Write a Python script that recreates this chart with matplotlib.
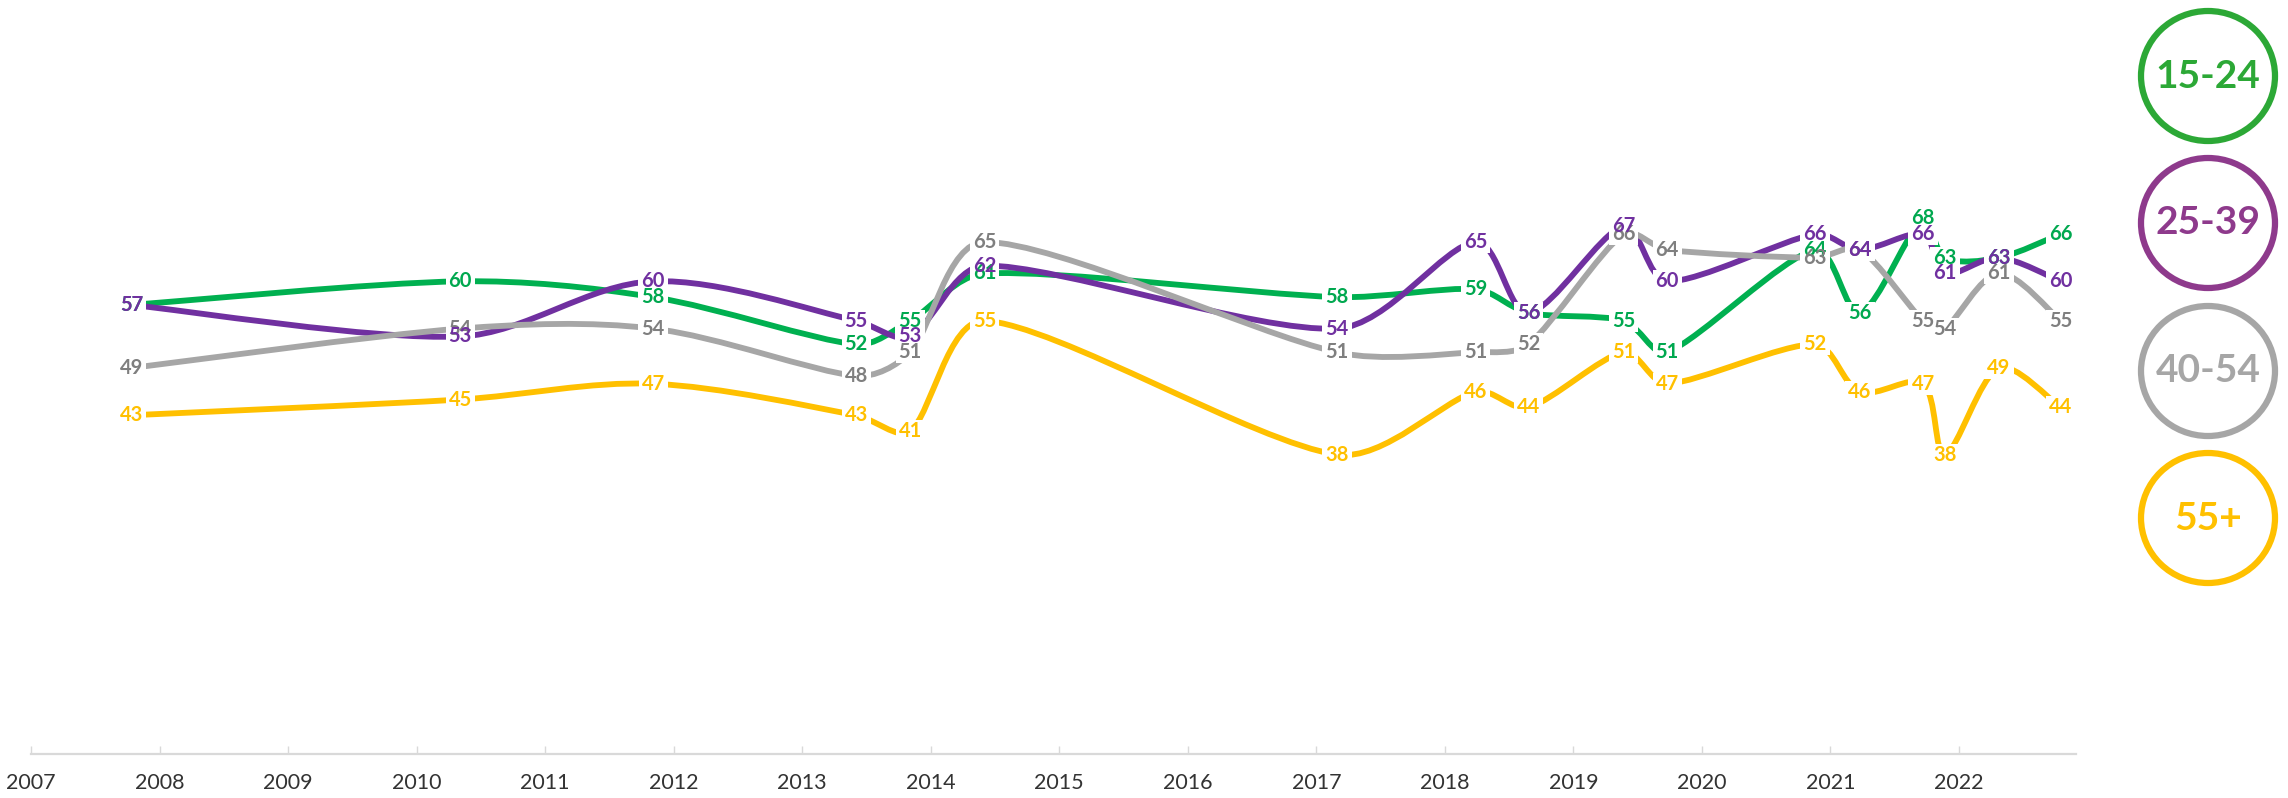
import numpy as np
import matplotlib
matplotlib.use('Agg')
import matplotlib.pyplot as plt
from matplotlib.path import Path
from matplotlib.patches import PathPatch, Ellipse, Rectangle
from matplotlib.transforms import IdentityTransform

# ---------------- data ----------------
survey_dates = [2007.78, 2010.34, 2011.84, 2013.42, 2013.84, 2014.42, 2017.16,
                2018.24, 2018.65, 2019.39, 2019.73, 2020.88, 2021.23, 2021.72,
                2021.89, 2022.31, 2022.79]
age_15_24 = [57, 60, 58, 52, 55, 61, 58, 59, 56, 55, 51, 64, 56, 68, 63, 63, 66]
age_25_39 = [57, 53, 60, 55, 53, 62, 54, 65, 56, 67, 60, 66, 64, 66, 61, 63, 60]
age_40_54 = [49, 54, 54, 48, 51, 65, 51, 51, 52, 66, 64, 63, 64, 55, 54, 61, 55]
age_55_plus = [43, 45, 47, 43, 41, 55, 38, 46, 44, 51, 47, 52, 46, 47, 38, 49, 44]
series_names = ['15-24', '25-39', '40-54', '55+']
year_ticks = list(range(2007, 2023))

# ---------------- style ----------------
line_colors = {'15-24': '#00B050', '25-39': '#7030A0', '40-54': '#A6A6A6', '55+': '#FFC000'}
label_colors = {'15-24': '#00A84F', '25-39': '#7030A0', '40-54': '#7F7F7F', '55+': '#FFC000'}
legend_colors = {'15-24': '#2CA836', '25-39': '#8E3A8C', '40-54': '#A6A6A6', '55+': '#FFC000'}
label_z = {'15-24': 6, '25-39': 8, '40-54': 7, '55+': 9}

W, H = 2288, 798
fig = plt.figure(figsize=(W / 100, H / 100), dpi=100)
ax = fig.add_axes([31 / W, 44 / H, (2076 - 31) / W, (754 - 45) / H])
ax.set_xlim(2007, 2022.91)
ax.set_ylim(0, 90)

for s in ['left', 'top', 'right']:
    ax.spines[s].set_visible(False)
ax.spines['bottom'].set_color('#D9D9D9')
ax.spines['bottom'].set_linewidth(1.6)
ax.set_yticks([])
ax.set_xticks(year_ticks)
ax.set_xticklabels([str(y) for y in year_ticks])
ax.tick_params(axis='x', direction='in', length=6, width=1, color='#D9D9D9',
               labelsize=15.5, labelcolor='#333333', pad=14)
for lab in ax.get_xticklabels():
    lab.set_family(['Lato', 'DejaVu Sans'])


def smooth_path(xs, ys):
    pts = ax.transData.transform(np.column_stack([xs, ys]))
    n = len(pts)
    verts = [pts[0]]
    codes = [Path.MOVETO]
    for i in range(n - 1):
        p0 = pts[i - 1] if i > 0 else pts[i]
        p1 = pts[i]
        p2 = pts[i + 1]
        p3 = pts[i + 2] if i + 2 < n else pts[i + 1]
        d01 = np.hypot(*(p1 - p0))
        d12 = np.hypot(*(p2 - p1))
        d23 = np.hypot(*(p3 - p2))
        f1 = min(1.0, 2 * d12 / (d01 + d12)) if d01 + d12 > 0 else 1.0
        f2 = min(1.0, 2 * d12 / (d12 + d23)) if d12 + d23 > 0 else 1.0
        c1 = p1 + (p2 - p0) / 6.0 * f1
        c2 = p2 - (p3 - p1) / 6.0 * f2
        verts += [c1, c2, p2]
        codes += [Path.CURVE4] * 3
    verts = ax.transData.inverted().transform(np.array(verts))
    return Path(verts, codes)


series = {'15-24': age_15_24, '25-39': age_25_39, '40-54': age_40_54, '55+': age_55_plus}
label_kw = dict(ha='center', va='center', fontsize=14.5, fontweight='bold',
                family=['Lato', 'DejaVu Sans'])
labels = []
for name in series_names:
    vals = series[name]
    patch = PathPatch(smooth_path(survey_dates, vals), facecolor='none',
                      edgecolor=line_colors[name], lw=4.2, capstyle='round',
                      joinstyle='round', transform=ax.transData, zorder=2)
    ax.add_patch(patch)
    for x, v in zip(survey_dates, vals):
        t = ax.text(x, v, str(v), color=label_colors[name], zorder=label_z[name],
                    **label_kw)
        labels.append(t)

# white knock-out boxes behind labels (cut the lines, not other labels)
renderer = fig.canvas.get_renderer()
pad = 3
for t in labels:
    bb = t.get_window_extent(renderer)
    ax.add_patch(Rectangle((bb.x0 - pad, bb.y0 - pad + 2), bb.width + 2 * pad,
                           bb.height + 2 * pad - 4, transform=IdentityTransform(),
                           facecolor='white', edgecolor='none', zorder=3,
                           clip_on=False))

# ---------------- legend circles ----------------
lax = fig.add_axes([0, 0, 1, 1])
lax.set_xlim(0, W)
lax.set_ylim(H, 0)
lax.axis('off')
lax.patch.set_alpha(0)
centers_y = [76, 223, 371, 518]
for name, cy in zip(series_names, centers_y):
    lax.add_patch(Ellipse((2208, cy), 134, 130, facecolor='none',
                          edgecolor=legend_colors[name], lw=4.5))
    lax.text(2208, cy, name, ha='center', va='center', fontsize=28,
             fontweight='bold', family=['Lato', 'DejaVu Sans'],
             color=legend_colors[name])

fig.savefig('out.png', dpi=100)
